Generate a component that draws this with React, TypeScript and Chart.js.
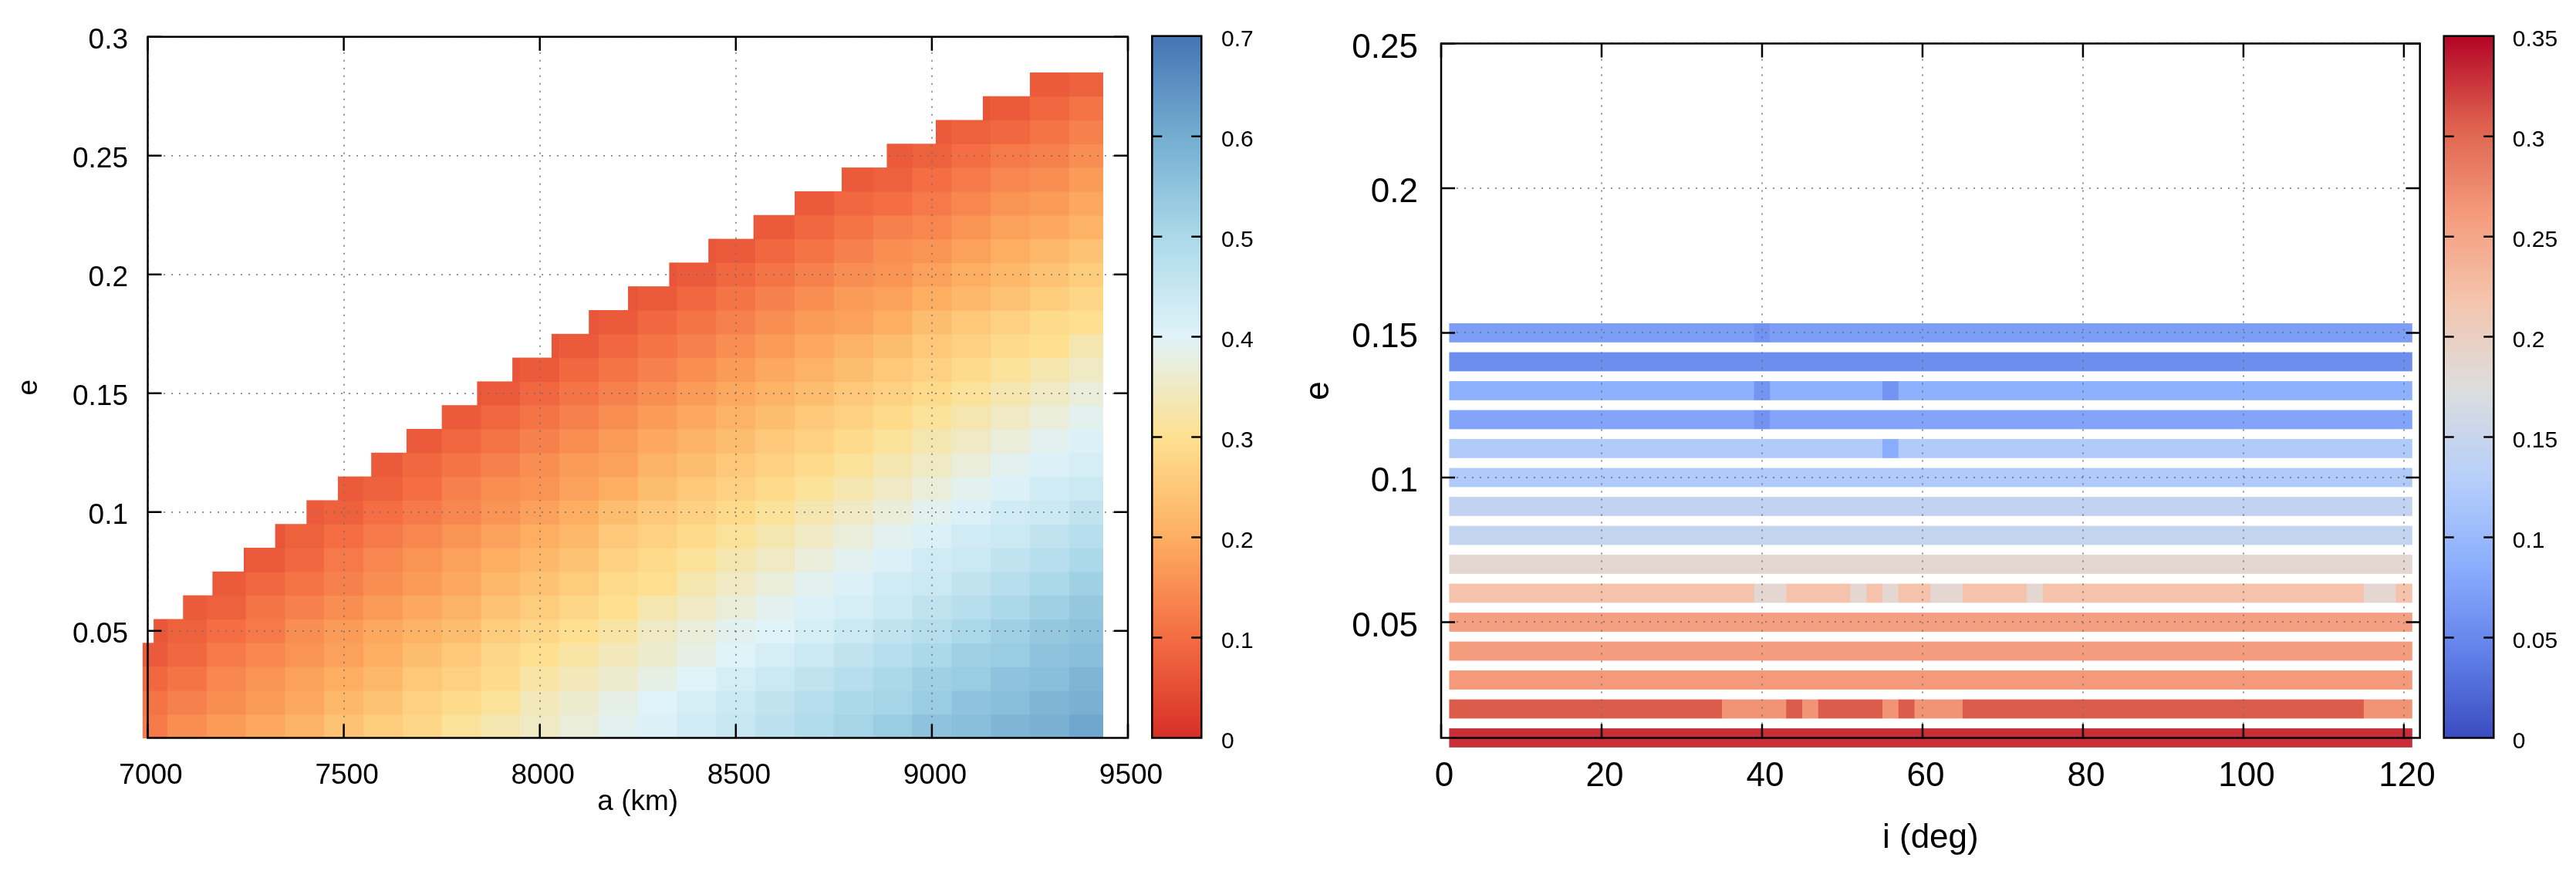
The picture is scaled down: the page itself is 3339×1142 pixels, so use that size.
import { useEffect, useRef } from "react"
import { Chart, registerables } from "chart.js"

Chart.register(...registerables)
Chart.defaults.font.family = "'Liberation Sans', Arial, Helvetica, sans-serif"

// ---------- left panel: a (km) against e ----------
const aColumns = [
  7000, 7100, 7200, 7300, 7400, 7500, 7600, 7700, 7800, 7900, 8000, 8100, 8200,
  8300, 8400, 8500, 8600, 8700, 8800, 8900, 9000, 9100, 9200, 9300, 9400,
]
const aTicks = [7000, 7500, 8000, 8500, 9000, 9500]
const aTickLabels = ["7000", "7500", "8000", "8500", "9000", "9500"]
const eTicksLeft = [0.05, 0.1, 0.15, 0.2, 0.25, 0.3]
const eTickLabelsLeft = ["0.05", "0.1", "0.15", "0.2", "0.25", "0.3"]
const eRowsLeft = [
  0.01, 0.02, 0.03, 0.04, 0.05, 0.06, 0.07, 0.08, 0.09, 0.1, 0.11, 0.12, 0.13, 0.14,
  0.15, 0.16, 0.17, 0.18, 0.19, 0.2, 0.21, 0.22, 0.23, 0.24, 0.25, 0.26, 0.27, 0.28,
]
// where the map begins / ends along a (km)
const heatLeftEdge = 6987
const heatRightEdge = 9437
// the staircase: first a (km) of every e row
const rowStartA = [
  6987, 6987, 6987, 6987, 7015, 7090, 7165, 7245, 7325, 7405, 7485, 7570, 7660, 7750,
  7840, 7930, 8030, 8125, 8225, 8330, 8430, 8545, 8650, 8770, 8885, 9010, 9130, 9250,
]
// values per e row, the last one always at a = 9400
const e01 = [0.12, 0.15, 0.17, 0.19, 0.21, 0.24, 0.26, 0.28, 0.31, 0.33, 0.35, 0.37, 0.39, 0.41, 0.43, 0.45, 0.47, 0.49, 0.51, 0.53, 0.55, 0.56, 0.58, 0.59, 0.61]
const e02 = [0.11, 0.13, 0.15, 0.17, 0.19, 0.22, 0.24, 0.27, 0.29, 0.31, 0.34, 0.36, 0.38, 0.4, 0.42, 0.44, 0.46, 0.48, 0.5, 0.51, 0.53, 0.55, 0.56, 0.58, 0.59]
const e03 = [0.09, 0.11, 0.14, 0.16, 0.18, 0.2, 0.22, 0.25, 0.27, 0.29, 0.32, 0.34, 0.36, 0.38, 0.4, 0.42, 0.44, 0.46, 0.48, 0.5, 0.52, 0.53, 0.55, 0.56, 0.58]
const e04 = [0.07, 0.09, 0.12, 0.14, 0.16, 0.18, 0.2, 0.23, 0.25, 0.28, 0.3, 0.32, 0.34, 0.36, 0.38, 0.4, 0.42, 0.44, 0.46, 0.48, 0.5, 0.52, 0.53, 0.55, 0.56]
const e05 = [0.06, 0.08, 0.1, 0.12, 0.15, 0.17, 0.19, 0.21, 0.23, 0.26, 0.28, 0.3, 0.32, 0.35, 0.37, 0.39, 0.4, 0.42, 0.44, 0.46, 0.48, 0.5, 0.52, 0.54, 0.55]
const e06 = [0.07, 0.08, 0.11, 0.13, 0.15, 0.17, 0.19, 0.21, 0.24, 0.26, 0.28, 0.3, 0.33, 0.35, 0.37, 0.39, 0.41, 0.42, 0.44, 0.46, 0.48, 0.5, 0.52, 0.54]
const e07 = [0.07, 0.09, 0.11, 0.13, 0.15, 0.17, 0.19, 0.22, 0.24, 0.26, 0.29, 0.3, 0.33, 0.35, 0.37, 0.39, 0.41, 0.43, 0.44, 0.46, 0.48, 0.5, 0.52]
const e08 = [0.06, 0.07, 0.09, 0.12, 0.14, 0.16, 0.18, 0.2, 0.22, 0.24, 0.27, 0.29, 0.31, 0.33, 0.35, 0.37, 0.39, 0.41, 0.43, 0.44, 0.46, 0.48, 0.5]
const e09 = [0.06, 0.08, 0.1, 0.12, 0.14, 0.16, 0.18, 0.2, 0.22, 0.25, 0.27, 0.29, 0.31, 0.33, 0.35, 0.37, 0.39, 0.41, 0.43, 0.44, 0.46, 0.48]
const e10 = [0.07, 0.08, 0.1, 0.12, 0.14, 0.16, 0.18, 0.2, 0.23, 0.25, 0.27, 0.29, 0.31, 0.33, 0.35, 0.37, 0.39, 0.41, 0.43, 0.44, 0.46]
const e11 = [0.07, 0.08, 0.1, 0.13, 0.15, 0.16, 0.18, 0.2, 0.23, 0.25, 0.27, 0.29, 0.31, 0.33, 0.35, 0.37, 0.39, 0.41, 0.43, 0.44]
const e12 = [0.07, 0.09, 0.11, 0.13, 0.15, 0.17, 0.18, 0.21, 0.23, 0.25, 0.27, 0.29, 0.31, 0.33, 0.35, 0.37, 0.39, 0.41, 0.42]
const e13 = [0.07, 0.09, 0.11, 0.13, 0.15, 0.17, 0.19, 0.21, 0.23, 0.25, 0.27, 0.29, 0.31, 0.33, 0.35, 0.37, 0.39, 0.41]
const e14 = [0.07, 0.09, 0.11, 0.13, 0.15, 0.17, 0.19, 0.21, 0.23, 0.25, 0.27, 0.29, 0.31, 0.33, 0.35, 0.37, 0.39]
const e15 = [0.06, 0.07, 0.09, 0.11, 0.13, 0.15, 0.17, 0.19, 0.21, 0.23, 0.25, 0.27, 0.29, 0.31, 0.33, 0.35, 0.37]
const e16 = [0.06, 0.07, 0.09, 0.11, 0.13, 0.15, 0.17, 0.19, 0.21, 0.23, 0.25, 0.27, 0.29, 0.31, 0.33, 0.35]
const e17 = [0.06, 0.07, 0.09, 0.11, 0.13, 0.15, 0.17, 0.19, 0.21, 0.23, 0.25, 0.27, 0.29, 0.3, 0.33]
const e18 = [0.06, 0.07, 0.09, 0.11, 0.13, 0.15, 0.17, 0.18, 0.2, 0.23, 0.25, 0.27, 0.29, 0.3]
const e19 = [0.06, 0.07, 0.09, 0.11, 0.13, 0.15, 0.17, 0.18, 0.2, 0.22, 0.24, 0.26, 0.28]
const e20 = [0.06, 0.07, 0.09, 0.11, 0.13, 0.15, 0.16, 0.18, 0.2, 0.22, 0.24, 0.26]
const e21 = [0.06, 0.07, 0.09, 0.11, 0.13, 0.15, 0.16, 0.18, 0.2, 0.22, 0.24]
const e22 = [0.06, 0.07, 0.09, 0.11, 0.13, 0.14, 0.16, 0.18, 0.19, 0.21]
const e23 = [0.07, 0.09, 0.1, 0.12, 0.14, 0.16, 0.17, 0.19]
const e24 = [0.07, 0.08, 0.1, 0.12, 0.14, 0.15, 0.17]
const e25 = [0.07, 0.08, 0.1, 0.12, 0.13, 0.15]
const e26 = [0.07, 0.08, 0.09, 0.11, 0.13]
const e27 = [0.06, 0.07, 0.09, 0.11]
const e28 = [0.07, 0.08]
const heatRows = [
  e01, e02, e03, e04, e05, e06, e07, e08, e09, e10, e11, e12, e13, e14,
  e15, e16, e17, e18, e19, e20, e21, e22, e23, e24, e25, e26, e27, e28,
]

const cbLeftTicks = [0, 0.1, 0.2, 0.3, 0.4, 0.5, 0.6, 0.7]
const cbLeftLabels = ["0", "0.1", "0.2", "0.3", "0.4", "0.5", "0.6", "0.7"]
const rdylbuStops = [0, 0.1, 0.2, 0.3, 0.4, 0.5, 0.6, 0.7]
const rdylbuColors = ["#d73027", "#f46d43", "#fdae61", "#fee090", "#e0f3f8", "#abd9e9", "#74add1", "#4575b4"]

// ---------- right panel: i (deg) against e ----------
const iTicks = [0, 20, 40, 60, 80, 100, 120]
const iTickLabels = ["0", "20", "40", "60", "80", "100", "120"]
const eTicksRight = [0.05, 0.1, 0.15, 0.2, 0.25]
const eTickLabelsRight = ["0.05", "0.1", "0.15", "0.2", "0.25"]
const eRowsRight = [0.01, 0.02, 0.03, 0.04, 0.05, 0.06, 0.07, 0.08, 0.09, 0.1, 0.11, 0.12, 0.13, 0.14, 0.15]
// runs along i: [from deg, to deg, value]
const r01 = [[1, 121, 0.33]]
const r02 = [[1, 35, 0.308], [35, 43, 0.268], [43, 45, 0.308], [45, 47, 0.268], [47, 55, 0.308], [55, 57, 0.268], [57, 59, 0.308], [59, 65, 0.268], [65, 115, 0.308], [115, 121, 0.268]]
const r03 = [[1, 121, 0.263]]
const r04 = [[1, 121, 0.26]]
const r05 = [[1, 121, 0.257]]
const r06 = [[1, 39, 0.22], [39, 43, 0.187], [43, 51, 0.22], [51, 53, 0.187], [53, 55, 0.22], [55, 57, 0.187], [57, 61, 0.22], [61, 65, 0.187], [65, 73, 0.22], [73, 75, 0.187], [75, 115, 0.22], [115, 119, 0.187], [119, 121, 0.22]]
const r07 = [[1, 121, 0.186]]
const r08 = [[1, 121, 0.145]]
const r09 = [[1, 121, 0.143]]
const r10 = [[1, 121, 0.123]]
const r11 = [[1, 55, 0.123], [55, 57, 0.084], [57, 121, 0.123]]
const r12 = [[1, 39, 0.076], [39, 41, 0.06], [41, 121, 0.076]]
const r13 = [[1, 39, 0.089], [39, 41, 0.061], [41, 55, 0.089], [55, 57, 0.061], [57, 121, 0.089]]
const r14 = [[1, 121, 0.055]]
const r15 = [[1, 39, 0.07], [39, 41, 0.06], [41, 121, 0.07]]
const rightRows = [r01, r02, r03, r04, r05, r06, r07, r08, r09, r10, r11, r12, r13, r14, r15]

const cbRightTicks = [0, 0.05, 0.1, 0.15, 0.2, 0.25, 0.3, 0.35]
const cbRightLabels = ["0", "0.05", "0.1", "0.15", "0.2", "0.25", "0.3", "0.35"]
const coolwarmStops = [0, 0.04375, 0.0875, 0.13125, 0.175, 0.21875, 0.2625, 0.30625, 0.35]
const coolwarmColors = ["#3b4cc0", "#6282ea", "#8db0fe", "#b8d0f9", "#dddddd", "#f5c4ad", "#f49a7b", "#de604d", "#b40426"]

// ---------- layout ----------
const W = 3339
const H = 1142
const PLOT_TOP = 46.7
const PLOT_BOTTOM = 956.5
const GRID = "rgba(110,110,110,0.75)"

function hexRgb(h: string) {
  const n = parseInt(h.slice(1), 16)
  return [(n >> 16) & 255, (n >> 8) & 255, n & 255]
}

function colorAt(v: number, stops: number[], colors: string[]) {
  const last = stops.length - 1
  if (v <= stops[0]) return colors[0]
  if (v >= stops[last]) return colors[last]
  let k = 0
  while (v > stops[k + 1]) k++
  const t = (v - stops[k]) / (stops[k + 1] - stops[k])
  const a = hexRgb(colors[k])
  const b = hexRgb(colors[k + 1])
  const c = a.map((x, j) => Math.round(x + (b[j] - x) * t))
  return `rgb(${c[0]},${c[1]},${c[2]})`
}

function framePlugin(xTicks: number[], yTicks: number[], tickLen: number) {
  return {
    id: "frame",
    afterDraw(chart: any) {
      const { ctx, chartArea: a, scales } = chart
      ctx.save()
      ctx.strokeStyle = "#000"
      ctx.lineWidth = 2.5
      ctx.beginPath()
      xTicks.forEach((v) => {
        const px = scales.x.getPixelForValue(v)
        ctx.moveTo(px, a.bottom)
        ctx.lineTo(px, a.bottom - tickLen)
        ctx.moveTo(px, a.top)
        ctx.lineTo(px, a.top + tickLen)
      })
      yTicks.forEach((v) => {
        const py = scales.y.getPixelForValue(v)
        ctx.moveTo(a.left, py)
        ctx.lineTo(a.left + tickLen, py)
        ctx.moveTo(a.right, py)
        ctx.lineTo(a.right - tickLen, py)
      })
      ctx.stroke()
      ctx.strokeRect(a.left, a.top, a.right - a.left, a.bottom - a.top)
      ctx.restore()
    },
  }
}

const leftHeatPlugin = {
  id: "leftHeat",
  beforeDraw(chart: any) {
    const { ctx, scales } = chart
    const xs = scales.x
    const ys = scales.y
    const half = (aColumns[1] - aColumns[0]) / 2
    const eHalf = (eRowsLeft[1] - eRowsLeft[0]) / 2
    ctx.save()
    heatRows.forEach((row, r) => {
      const first = aColumns.length - row.length
      const e = eRowsLeft[r]
      const top = ys.getPixelForValue(e + eHalf)
      const bottom = ys.getPixelForValue(e - eHalf)
      row.forEach((v, k) => {
        const c = aColumns[first + k]
        const lo = Math.max(c - half, rowStartA[r], heatLeftEdge)
        const hi = Math.min(c + half, heatRightEdge)
        const x0 = xs.getPixelForValue(lo)
        const x1 = xs.getPixelForValue(hi)
        ctx.fillStyle = colorAt(v, rdylbuStops, rdylbuColors)
        ctx.fillRect(x0, top, x1 - x0 + (k < row.length - 1 ? 0.6 : 0), bottom - top + 0.6)
      })
    })
    ctx.restore()
  },
}

const BAR_HALF = 0.0033
const rightHeatPlugin = {
  id: "rightHeat",
  beforeDraw(chart: any) {
    const { ctx, scales } = chart
    const xs = scales.x
    const ys = scales.y
    ctx.save()
    rightRows.forEach((segs, r) => {
      const e = eRowsRight[r]
      const top = ys.getPixelForValue(e + BAR_HALF)
      const bottom = ys.getPixelForValue(e - BAR_HALF)
      segs.forEach(([i0, i1, v]) => {
        const x0 = xs.getPixelForValue(i0)
        const x1 = xs.getPixelForValue(i1)
        ctx.fillStyle = colorAt(v, coolwarmStops, coolwarmColors)
        ctx.fillRect(x0, top, x1 - x0 + 0.5, bottom - top)
      })
    })
    ctx.restore()
  },
}

interface PanelProps {
  left: number
  width: number
  areaLeft: number
  areaRight: number
  xMin: number
  xMax: number
  xTicks: number[]
  xLabels: string[]
  yMin: number
  yMax: number
  yTicks: number[]
  yLabels: string[]
  tickFont: number
  titleFont: number
  xTickPad: number
  yTickPad: number
  xLabelOffset: number
  yLabelOffset: number
  xTitle: string
  yTitle: string
  xTitlePad: number
  yTitlePad: number
  heat: any
}

function Panel(p: PanelProps) {
  const canvasRef = useRef<HTMLCanvasElement>(null)
  const chartRef = useRef<Chart | null>(null)

  useEffect(() => {
    if (!canvasRef.current) return
    if (chartRef.current) chartRef.current.destroy()
    const ctx = canvasRef.current.getContext("2d")
    if (!ctx) return

    chartRef.current = new Chart(ctx, {
      type: "scatter",
      data: { datasets: [] },
      options: {
        animation: false,
        responsive: false,
        devicePixelRatio: 1,
        events: [],
        layout: { padding: { left: 0, top: PLOT_TOP, right: p.width - p.areaRight, bottom: 0 } },
        plugins: { legend: { display: false }, tooltip: { enabled: false } },
        scales: {
          x: {
            type: "linear",
            min: p.xMin,
            max: p.xMax,
            afterBuildTicks: (ax: any) => {
              ax.ticks = p.xTicks.map((value) => ({ value }))
            },
            afterFit: (ax: any) => {
              ax.height = H - PLOT_BOTTOM
            },
            grid: { color: GRID, lineWidth: 2, drawTicks: false },
            border: { display: false, dash: [2, 8] },
            ticks: {
              color: "#000",
              font: { size: p.tickFont },
              padding: p.xTickPad,
              labelOffset: p.xLabelOffset,
              autoSkip: false,
              maxRotation: 0,
              callback: (_v: any, i: number) => p.xLabels[i],
            },
            title: {
              display: true,
              text: p.xTitle,
              color: "#000",
              font: { size: p.titleFont },
              padding: { top: 0, bottom: p.xTitlePad },
            },
          },
          y: {
            type: "linear",
            min: p.yMin,
            max: p.yMax,
            afterBuildTicks: (ax: any) => {
              ax.ticks = p.yTicks.map((value) => ({ value }))
            },
            afterFit: (ax: any) => {
              ax.width = p.areaLeft
            },
            grid: { color: GRID, lineWidth: 2, drawTicks: false },
            border: { display: false, dash: [2, 8] },
            ticks: {
              color: "#000",
              font: { size: p.tickFont },
              padding: p.yTickPad,
              labelOffset: p.yLabelOffset,
              autoSkip: false,
              callback: (_v: any, i: number) => p.yLabels[i],
            },
            title: {
              display: true,
              text: p.yTitle,
              color: "#000",
              font: { size: p.titleFont },
              padding: { top: p.yTitlePad, bottom: 0 },
            },
          },
        },
      },
      plugins: [p.heat, framePlugin(p.xTicks, p.yTicks, 18)],
    } as any)

    return () => {
      if (chartRef.current) chartRef.current.destroy()
    }
  }, [])

  return (
    <canvas
      ref={canvasRef}
      width={p.width}
      height={H}
      style={{ position: "absolute", left: p.left, top: 0, width: p.width, height: H }}
    />
  )
}

interface BarProps {
  left: number
  width: number
  barLeft: number
  barRight: number
  axisWidth: number
  max: number
  ticks: number[]
  labels: string[]
  stops: number[]
  colors: string[]
  labelPad: number
}

function ColorBar(p: BarProps) {
  const canvasRef = useRef<HTMLCanvasElement>(null)
  const chartRef = useRef<Chart | null>(null)

  useEffect(() => {
    if (!canvasRef.current) return
    if (chartRef.current) chartRef.current.destroy()
    const ctx = canvasRef.current.getContext("2d")
    if (!ctx) return

    const gradient = {
      id: "gradient",
      beforeDraw(chart: any) {
        const { ctx: c, chartArea: a, scales } = chart
        const y = scales.y
        const last = p.stops.length - 1
        const g = c.createLinearGradient(0, y.getPixelForValue(p.stops[0]), 0, y.getPixelForValue(p.stops[last]))
        p.stops.forEach((s, i) => g.addColorStop((s - p.stops[0]) / (p.stops[last] - p.stops[0]), p.colors[i]))
        c.save()
        c.fillStyle = g
        c.fillRect(a.left, a.top, a.right - a.left, a.bottom - a.top)
        c.restore()
      },
    }

    chartRef.current = new Chart(ctx, {
      type: "scatter",
      data: { datasets: [] },
      options: {
        animation: false,
        responsive: false,
        devicePixelRatio: 1,
        events: [],
        layout: {
          padding: {
            left: p.barLeft,
            top: PLOT_TOP,
            right: p.width - p.barRight - p.axisWidth,
            bottom: H - PLOT_BOTTOM,
          },
        },
        plugins: { legend: { display: false }, tooltip: { enabled: false } },
        scales: {
          x: { display: false, min: 0, max: 1 },
          y: {
            type: "linear",
            position: "right",
            min: 0,
            max: p.max,
            afterBuildTicks: (ax: any) => {
              ax.ticks = p.ticks.map((value) => ({ value }))
            },
            afterFit: (ax: any) => {
              ax.width = p.axisWidth
            },
            grid: { display: false, drawTicks: false },
            border: { display: false },
            ticks: {
              color: "#000",
              font: { size: 30 },
              padding: p.labelPad,
              labelOffset: 5,
              autoSkip: false,
              callback: (_v: any, i: number) => p.labels[i],
            },
          },
        },
      },
      plugins: [gradient, framePlugin([], p.ticks.slice(1, -1), 13)],
    } as any)

    return () => {
      if (chartRef.current) chartRef.current.destroy()
    }
  }, [])

  return (
    <canvas
      ref={canvasRef}
      width={p.width}
      height={H}
      style={{ position: "absolute", left: p.left, top: 0, width: p.width, height: H }}
    />
  )
}

export default function App() {
  useEffect(() => {
    document.body.style.margin = "0"
  }, [])

  return (
    <div style={{ position: "absolute", left: 0, top: 0, width: W, height: H, background: "#fff", overflow: "hidden" }}>
      <Panel
        left={0}
        width={1700}
        areaLeft={191.5}
        areaRight={1462}
        xMin={7000}
        xMax={9500}
        xTicks={aTicks}
        xLabels={aTickLabels}
        yMin={0.005}
        yMax={0.3}
        yTicks={eTicksLeft}
        yLabels={eTickLabelsLeft}
        tickFont={37}
        titleFont={37}
        xTickPad={27}
        yTickPad={25.5}
        xLabelOffset={4}
        yLabelOffset={5}
        xTitle="a (km)"
        yTitle="e"
        xTitlePad={80}
        yTitlePad={16}
        heat={leftHeatPlugin}
      />
      <ColorBar
        left={1470}
        width={200}
        barLeft={23.3}
        barRight={87.3}
        axisWidth={100}
        max={0.7}
        ticks={cbLeftTicks}
        labels={cbLeftLabels}
        stops={rdylbuStops}
        colors={rdylbuColors}
        labelPad={25.7}
      />
      <Panel
        left={1640}
        width={1620}
        areaLeft={228}
        areaRight={1496.7}
        xMin={0}
        xMax={122}
        xTicks={iTicks}
        xLabels={iTickLabels}
        yMin={0.01}
        yMax={0.25}
        yTicks={eTicksRight}
        yLabels={eTickLabelsRight}
        tickFont={44}
        titleFont={44}
        xTickPad={24}
        yTickPad={30}
        xLabelOffset={4}
        yLabelOffset={6}
        xTitle="i (deg)"
        yTitle="e"
        xTitlePad={28.6}
        yTitlePad={43.6}
        heat={rightHeatPlugin}
      />
      <ColorBar
        left={3150}
        width={189}
        barLeft={17.7}
        barRight={82.3}
        axisWidth={90}
        max={0.35}
        ticks={cbRightTicks}
        labels={cbRightLabels}
        stops={coolwarmStops}
        colors={coolwarmColors}
        labelPad={24.4}
      />
    </div>
  )
}
